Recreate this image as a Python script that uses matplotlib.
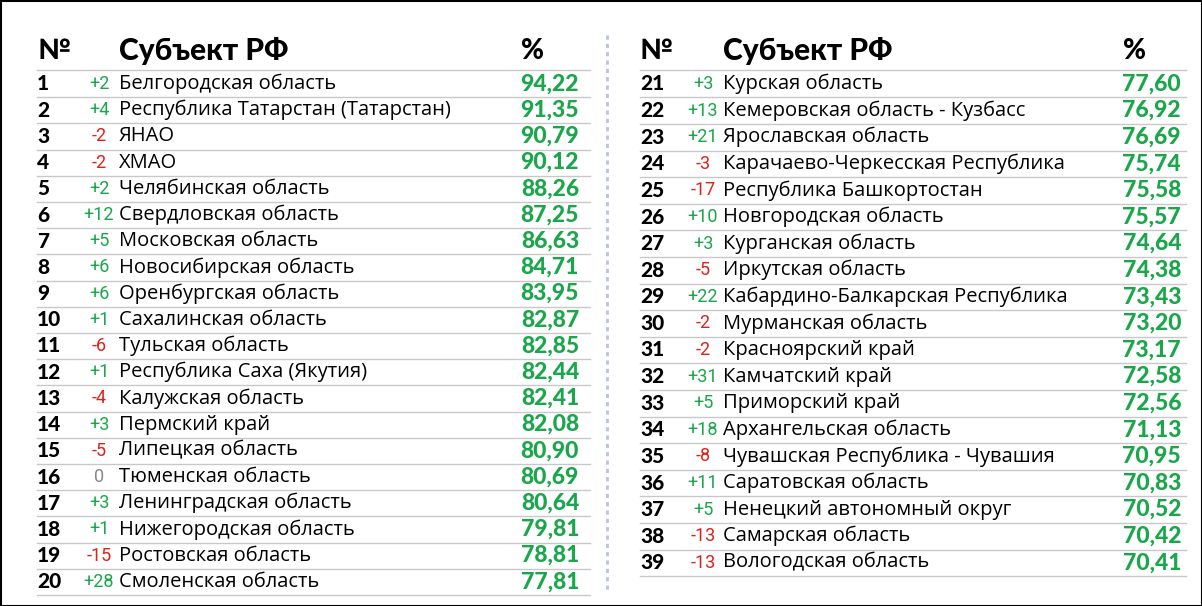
import matplotlib
matplotlib.use("Agg")
import matplotlib.pyplot as plt

ranks_l = list(range(1, 21))
changes_l = ["+2","+4","-2","-2","+2","+12","+5","+6","+6","+1","-6","+1","-4","+3","-5","0","+3","+1","-15","+28"]
names_l = ["Белгородская область","Республика Татарстан (Татарстан)","ЯНАО","ХМАО","Челябинская область",
           "Свердловская область","Московская область","Новосибирская область","Оренбургская область",
           "Сахалинская область","Тульская область","Республика Саха (Якутия)","Калужская область",
           "Пермский край","Липецкая область","Тюменская область","Ленинградская область",
           "Нижегородская область","Ростовская область","Смоленская область"]
values_l = ["94,22","91,35","90,79","90,12","88,26","87,25","86,63","84,71","83,95","82,87",
            "82,85","82,44","82,41","82,08","80,90","80,69","80,64","79,81","78,81","77,81"]

ranks_r = list(range(21, 40))
changes_r = ["+3","+13","+21","-3","-17","+10","+3","-5","+22","-2","-2","+31","+5","+18","-8","+11","+5","-13","-13"]
names_r = ["Курская область","Кемеровская область - Кузбасс","Ярославская область",
           "Карачаево-Черкесская Республика","Республика Башкортостан","Новгородская область",
           "Курганская область","Иркутская область","Кабардино-Балкарская Республика",
           "Мурманская область","Красноярский край","Камчатский край","Приморский край",
           "Архангельская область","Чувашская Республика - Чувашия","Саратовская область",
           "Ненецкий автономный округ","Самарская область","Вологодская область"]
values_r = ["77,60","76,92","76,69","75,74","75,58","75,57","74,64","74,38","73,43","73,20",
            "73,17","72,58","72,56","71,13","70,95","70,83","70,52","70,42","70,41"]

GREEN = "#1aa64a"
RED = "#e0201b"
GRAY = "#888888"
LINE = "#c8c8c8"

fig = plt.figure(figsize=(12.02, 6.06), dpi=100)
ax = fig.add_axes([0, 0, 1, 1])
ax.set_xlim(0, 1202)
ax.set_ylim(606, 0)
ax.axis("off")
ax.add_patch(plt.Rectangle((0.5, 0.5), 1201, 605, fill=False, lw=1.5, ec="black"))

def table(ranks, changes, names, values, x0, xc, xn, xv, xend, y0, dy):
    ax.text(x0, 51, "№", fontsize=20, fontweight="black", family="Lato", va="center")
    ax.text(xn, 51, "Субъект РФ", fontsize=21.5, fontweight="black", family="Lato", va="center")
    ax.text(xv - 46, 51, "%", fontsize=20, fontweight="black", family="Lato", va="center", ha="center")
    ax.plot([x0, xend], [70, 70], color=LINE, lw=1)
    for i, (r, c, n, v) in enumerate(zip(ranks, changes, names, values)):
        y = y0 + i * dy
        ax.text(x0, y, str(r), fontsize=15, fontweight="black", family="Lato", va="center")
        col = GREEN if c.startswith("+") else (RED if c.startswith("-") else GRAY)
        ax.text(xc, y, c, fontsize=13, family="Roboto", va="center", ha="center", color=col)
        ax.text(xn, y, n, fontsize=14.5, family="Open Sans", va="center")
        ax.text(xv, y, v, fontsize=16.5, fontweight="black", family="Lato", va="center", ha="right", color=GREEN)
        ax.plot([x0, xend], [y + dy / 2, y + dy / 2], color=LINE, lw=1)

table(ranks_l, changes_l, names_l, values_l, 37, 99, 119, 579, 590, 84, 26.2)
table(ranks_r, changes_r, names_r, values_r, 640, 703, 723, 1181, 1186, 84, 26.6)
ax.plot([607, 607], [35, 590], color="#b8c4dc", lw=2, ls=(0, (1.5, 1.5)))

fig.savefig("out.png", dpi=100)
